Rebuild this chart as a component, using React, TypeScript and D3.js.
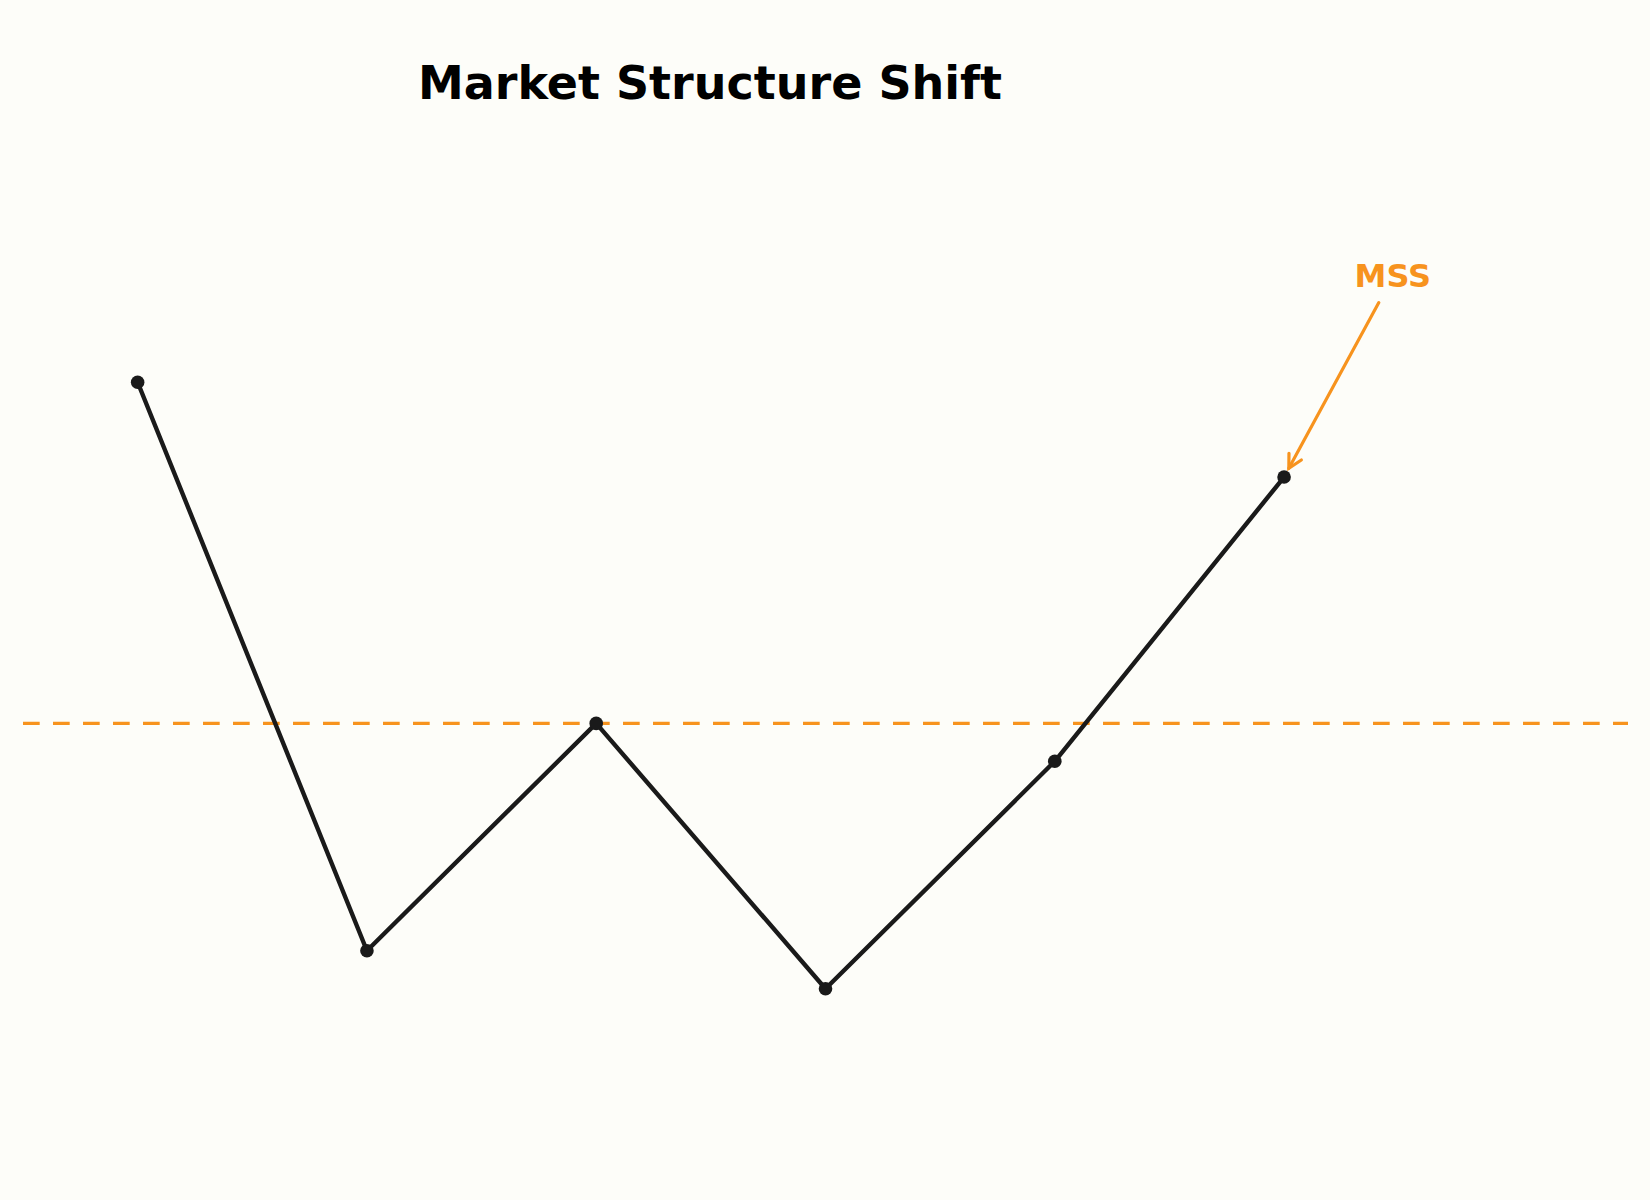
import * as d3 from "d3";

// swing points (index, price)
const swingIndex = [0, 1, 2, 3, 4, 5];
const swingPrice = [109, 94, 100, 93, 99, 106.5];
// level of the broken swing high
const mssLevel = 100;
// annotation
const mssLabel = "MSS";
const mssTarget = 5;
const mssTextPos = [5.47, 111.5];
const titleText = "Market Structure Shift";

const W = 1650;
const H = 1200;
const ORANGE = "#f7931e";
const INK = "#1a1a1a";

export default function App() {
  const x = d3.scaleLinear().domain([-0.5, 6.5]).range([23, 1628]);
  const y = d3.scaleLinear().domain([93, 109]).range([988.7, 382.3]);

  const pts = swingIndex.map((d, i) => ({ i: d, p: swingPrice[i] }));
  const line = d3
    .line<{ i: number; p: number }>()
    .x((d) => x(d.i))
    .y((d) => y(d.p));

  // arrow from label down to the last swing point
  const sx = x(mssTextPos[0]) - 13;
  const sy = y(mssTextPos[1]) + 15;
  const tx0 = x(mssTarget);
  const ty0 = y(swingPrice[mssTarget]);
  const len = Math.hypot(tx0 - sx, ty0 - sy);
  const ux = (tx0 - sx) / len;
  const uy = (ty0 - sy) / len;
  const tx = tx0 - ux * 10;
  const ty = ty0 - uy * 10;
  const wing = (a: number) => {
    const c = Math.cos(a);
    const s = Math.sin(a);
    const bx = -ux;
    const by = -uy;
    return [tx + 15 * (bx * c - by * s), ty + 15 * (bx * s + by * c)];
  };
  const w1 = wing((28 * Math.PI) / 180);
  const w2 = wing((-28 * Math.PI) / 180);

  return (
    <svg
      width={W}
      height={H}
      style={{ position: "absolute", left: 0, top: 0 }}
      fontFamily="DejaVu Sans"
    >
      <rect width={W} height={H} fill="#fdfdf9" />
      <text
        x={710}
        y={99}
        textAnchor="middle"
        fontSize={46}
        fontWeight="bold"
        fill="#000"
      >
        {titleText}
      </text>

      <line
        x1={x(-0.5)}
        x2={x(6.5)}
        y1={y(mssLevel)}
        y2={y(mssLevel)}
        stroke={ORANGE}
        strokeWidth={3.3}
        strokeDasharray="16.7 13.3"
      />

      <path
        d={line(pts) ?? ""}
        fill="none"
        stroke={INK}
        strokeWidth={4.4}
        strokeLinejoin="round"
      />
      {pts.map((d) => (
        <circle key={d.i} cx={x(d.i)} cy={y(d.p)} r={6.8} fill={INK} />
      ))}

      <line
        x1={sx}
        y1={sy}
        x2={tx}
        y2={ty}
        stroke={ORANGE}
        strokeWidth={3.2}
        strokeLinecap="round"
      />
      <polyline
        points={`${w1[0]},${w1[1]} ${tx},${ty} ${w2[0]},${w2[1]}`}
        fill="none"
        stroke={ORANGE}
        strokeWidth={3.2}
        strokeLinecap="round"
      />
      <text
        x={x(mssTextPos[0]) + 1}
        y={y(mssTextPos[1]) - 1}
        textAnchor="middle"
        fontSize={32}
        fontWeight="bold"
        fill={ORANGE}
      >
        {mssLabel}
      </text>
    </svg>
  );
}
